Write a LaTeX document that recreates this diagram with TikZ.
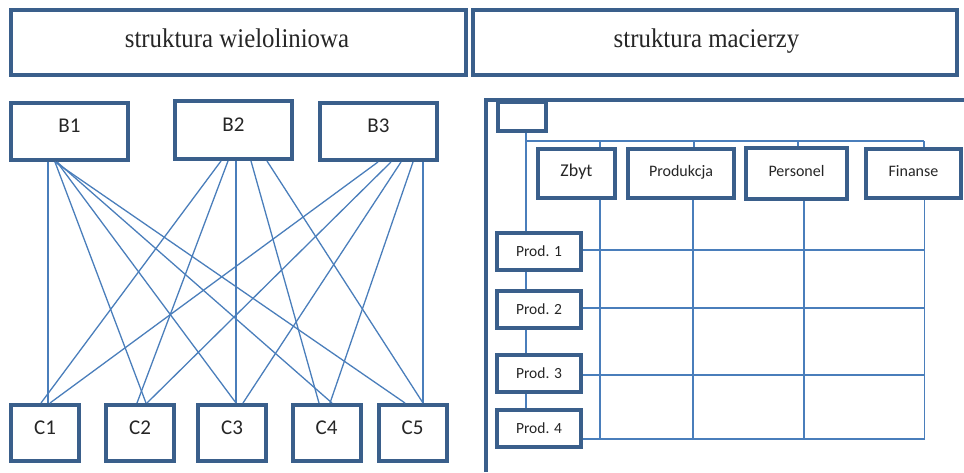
\documentclass[tikz,border=0pt]{standalone}
\usepackage{fontspec}
\setmainfont{Carlito}
\newfontfamily\titlefont{Liberation Serif}
\definecolor{frame}{RGB}{58,95,139}
\definecolor{wire}{RGB}{74,126,187}
\definecolor{ink}{RGB}{38,38,38}
\begin{document}
\begin{tikzpicture}[x=1pt,y=-1pt,
  box/.style={draw=frame, line width=4pt, fill=white, inner sep=0pt, text=ink},
  titlebox/.style={box, minimum height=65pt},
  titletext/.style={text=ink, inner sep=0pt, anchor=base, font=\titlefont\fontsize{27}{30}\selectfont},
  bbox/.style={box, minimum width=117pt, minimum height=57pt, text depth=11pt, font=\fontsize{21}{24}\selectfont},
  cbox/.style={box, minimum width=68pt, minimum height=56pt, text depth=10pt, font=\fontsize{21}{24}\selectfont},
  colbox/.style={box, minimum height=49pt, text depth=6pt, font=\fontsize{16}{19}\selectfont},
  prodbox/.style={box, minimum width=84pt, minimum height=37pt, font=\fontsize{15.5}{18}\selectfont},
  wire/.style={draw=wire, line width=1.3pt},
  heavy/.style={draw=frame, line width=4pt}
]
\useasboundingbox (0,0) rectangle (964,472);

% headings
\node[titlebox, minimum width=455pt] (t1) at (238.5,42.5) {};
\node[titlebox, minimum width=484pt] (t2) at (715,42.5) {};
\node[titletext] (t1txt) at (237,47) {\scalebox{0.92}[1]{struktura wieloliniowa}};
\node[titletext] (t2txt) at (706.5,47) {\scalebox{0.92}[1]{struktura macierzy}};

% multi-line structure: superiors
\node[bbox] (b1) at (69.5,131.5) {B1};
\node[bbox, minimum height=58pt, text depth=10pt] (b2) at (233.5,130) {B2};
\node[bbox] (b3) at (378.5,131.5) {B3};

% subordinates
\node[cbox] (c1) at (45,433) {C1};
\node[cbox] (c2) at (140,433) {C2};
\node[cbox] (c3) at (232,433) {C3};
\node[cbox] (c4) at (326.5,433) {C4};
\node[cbox] (c5) at (412.5,433) {C5};

% every superior reaches every subordinate
\draw[wire] ([xshift=-21.5pt]b1.south) -- ([xshift=3pt]c1.north);
\draw[wire] ([xshift=-14.5pt]b1.south) -- ([xshift=6pt]c2.north);
\draw[wire] ([xshift=-12.5pt]b1.south) -- ([xshift=4pt]c3.north);
\draw[wire] ([xshift=-12.5pt]b1.south) -- ([xshift=5.5pt]c4.north);
\draw[wire] ([xshift=-14.5pt]b1.south) -- ([xshift=-7.5pt]c5.north);

\draw[wire] ([xshift=-12.5pt]b2.south) -- ([xshift=-4pt]c1.north);
\draw[wire] ([xshift=-5.5pt]b2.south) -- ([xshift=-3pt]c2.north);
\draw[wire] ([xshift=2.5pt]b2.south) -- ([xshift=4pt]c3.north);
\draw[wire] ([xshift=17.5pt]b2.south) -- ([xshift=-7.5pt]c4.north);
\draw[wire] ([xshift=33.5pt]b2.south) -- ([xshift=10.5pt]c5.north);

\draw[wire] ([xshift=-0.5pt]b3.south) -- ([xshift=5pt]c1.north);
\draw[wire] ([xshift=12.5pt]b3.south) -- ([xshift=7pt]c2.north);
\draw[wire] ([xshift=22.5pt]b3.south) -- ([xshift=11pt]c3.north);
\draw[wire] ([xshift=34.5pt]b3.south) -- ([xshift=3.5pt]c4.north);
\draw[wire] ([xshift=44.5pt]b3.south) -- ([xshift=10.5pt]c5.north);

% matrix structure: outer frame
\coordinate (corner) at (486,100);
\coordinate (edgeR) at (964,100);
\coordinate (edgeB) at (486,472);
\draw[heavy] (edgeB) -- (corner) -- (edgeR);
\node[box, minimum width=48pt, minimum height=29pt] (sq) at (522,116.5) {};

% functional departments
\node[colbox, minimum width=77pt, font=\fontsize{18}{21}\selectfont] (zb) at (576.5,173.5) {Zbyt};
\node[colbox, minimum width=106pt] (pr) at (681,173.5) {Produkcja};
\node[colbox, minimum width=101pt, minimum height=51pt] (pe) at (796.5,173.5) {Personel};
\node[colbox, minimum width=95pt] (fi) at (913.5,173.5) {Finanse};

% product lines
\node[prodbox] (p1) at (539,251.5) {Prod. 1};
\node[prodbox] (p2) at (539,309.5) {Prod. 2};
\node[prodbox] (p3) at (539,373.5) {Prod. 3};
\node[prodbox] (p4) at (539,428.5) {Prod. 4};

% head to product chain
\draw[wire] ([xshift=4pt]sq.south) -- ([xshift=-13pt]p1.north);
\draw[wire] ([xshift=-13pt]p1.south) -- ([xshift=-13pt]p2.north);
\draw[wire] ([xshift=-13pt]p2.south) -- ([xshift=-13pt]p3.north);
\draw[wire] ([xshift=-13pt]p3.south) -- ([xshift=-13pt]p4.north);

% head to departments
\coordinate (busL) at (526,141);
\coordinate (dz) at (600,141);
\coordinate (dp) at (694,141);
\coordinate (dr) at (798,141);
\coordinate (df) at (924,141);
\draw[wire] (busL) -- (df);
\draw[wire] (dz) -- (dz |- zb.north);
\draw[wire] (dp) -- (dp |- pr.north);
\draw[wire] (dr) -- (dr |- pe.north);
\draw[wire] (df) -- (df |- fi.north);

% grid columns
\coordinate (gz) at (600,439);
\coordinate (gp) at (693,439);
\coordinate (gr) at (804,439);
\coordinate (gf) at (924.5,439);
\draw[wire] (gz |- zb.south) -- (gz);
\draw[wire] (gp |- pr.south) -- (gp);
\draw[wire] (gr |- pe.south) -- (gr);
\draw[wire] (gf |- fi.south) -- (gf);

% grid rows
\draw[wire] ([yshift=1.5pt]p1.east) -- ([yshift=1.5pt]p1.east -| gf);
\draw[wire] ([yshift=1.5pt]p2.east) -- ([yshift=1.5pt]p2.east -| gf);
\draw[wire] ([yshift=-1.5pt]p3.east) -- ([yshift=-1.5pt]p3.east -| gf);
\draw[wire] ([yshift=-10.5pt]p4.east) -- (gf);
\end{tikzpicture}
\end{document}
